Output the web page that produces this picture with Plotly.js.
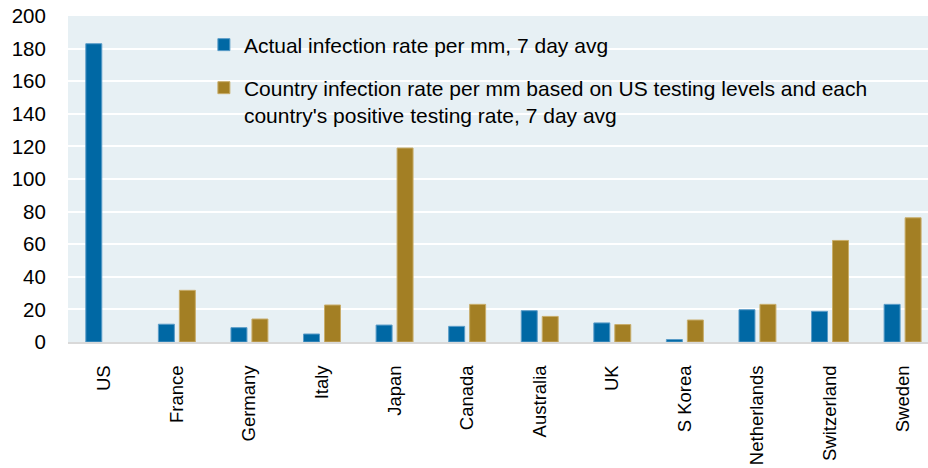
<!DOCTYPE html>
<html>
<head>
<meta charset="utf-8">
<script src="https://cdn.plot.ly/plotly-3.0.1.min.js"></script>
<style>html,body{margin:0;padding:0;background:#fff;}#chart{width:928px;height:468px;}</style>
</head>
<body>
<div id="chart"></div>
<script>
const countries = ["US", "France", "Germany", "Italy", "Japan", "Canada", "Australia", "UK", "S Korea", "Netherlands", "Switzerland", "Sweden"];
const actualRate = [183, 10.9, 8.8, 4.9, 10.4, 9.6, 19.2, 11.7, 1.5, 19.8, 18.8, 23.1];
const usTestingRate = [null, 31.7, 14.1, 22.7, 119, 23.1, 15.7, 10.7, 13.5, 23.1, 62.3, 76.2];
const yTicks = [0, 20, 40, 60, 80, 100, 120, 140, 160, 180, 200];
const seriesNames = ["Actual infection rate per mm, 7 day avg",
  "Country infection rate per mm based on US testing levels and each<br>country's positive testing rate, 7 day avg"];

const FONT = "Liberation Sans, Arial, sans-serif";

const data = [
  {type: "bar", x: countries, y: actualRate, name: seriesNames[0], legend: "legend",
   marker: {color: "#0068A4", line: {color: "#5A9CC8", width: 1}}, hoverinfo: "skip"},
  {type: "bar", x: countries, y: usTestingRate, name: seriesNames[1], legend: "legend2",
   marker: {color: "#A37F24", line: {color: "#C8AD6A", width: 1}}, hoverinfo: "skip"}
];

const layout = {
  width: 928, height: 468,
  margin: {l: 68, r: 0, t: 16, b: 126, pad: 0},
  paper_bgcolor: "#ffffff",
  plot_bgcolor: "#E7F0F4",
  font: {family: FONT, color: "#000000", size: 18},
  barmode: "group",
  bargap: 0.422,
  bargroupgap: 0.238,
  xaxis: {
    type: "category",
    range: [-0.5, 11.35],
    tickangle: -90,
    tickfont: {family: FONT, size: 18.5, color: "#000"},
    ticks: "outside", ticklen: 14, tickcolor: "rgba(0,0,0,0)",
    showline: true, linecolor: "#D9D9D9", linewidth: 2,
    showgrid: false, zeroline: false, fixedrange: true
  },
  yaxis: {
    range: [0, 200],
    tickvals: yTicks,
    ticktext: yTicks.map(String),
    tickfont: {family: FONT, size: 20.5, color: "#000"},
    ticks: "outside", ticklen: 17, tickcolor: "rgba(0,0,0,0)",
    showgrid: true, gridcolor: "#ffffff", gridwidth: 2,
    zeroline: false, showline: false, fixedrange: true
  },
  showlegend: true,
  legend: {
    x: 0.158, y: 0.974, xanchor: "left", yanchor: "top",
    bgcolor: "rgba(0,0,0,0)", borderwidth: 0,
    font: {family: FONT, size: 21, color: "#000"},
    valign: "top"
  },
  legend2: {
    x: 0.158, y: 0.842, xanchor: "left", yanchor: "top",
    bgcolor: "rgba(0,0,0,0)", borderwidth: 0,
    font: {family: FONT, size: 21, color: "#000"},
    valign: "top"
  }
};

Plotly.newPlot("chart", data, layout, {displayModeBar: false, staticPlot: true});
</script>
</body>
</html>
